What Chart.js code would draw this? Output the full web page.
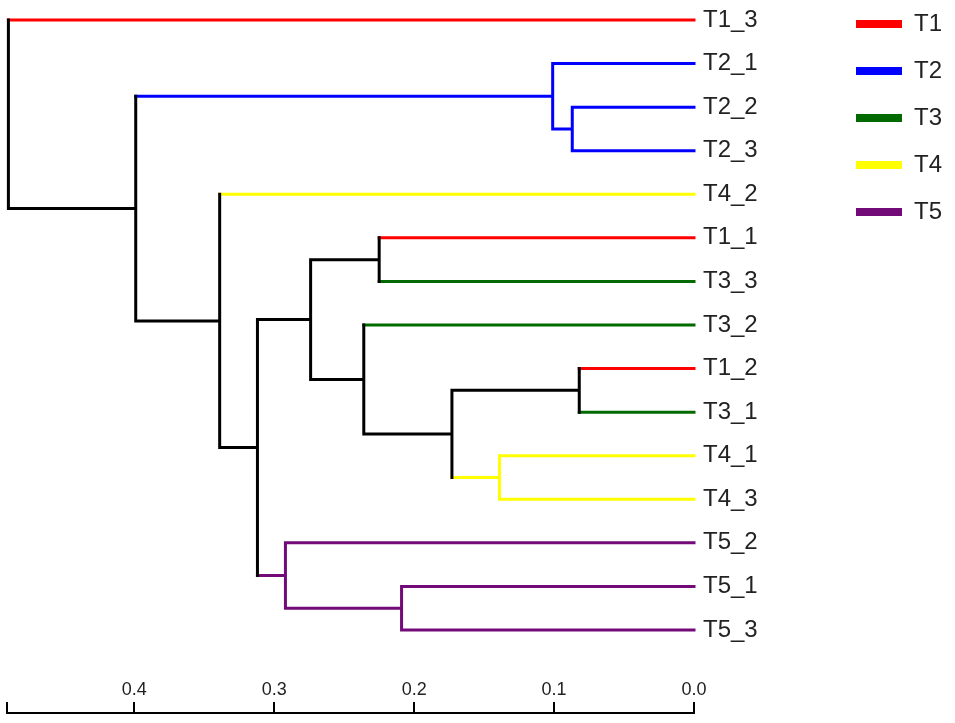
<!DOCTYPE html>
<html>
<head>
<meta charset="utf-8">
<title>Dendrogram</title>
<script src="https://cdn.jsdelivr.net/npm/chart.js@4.4.1/dist/chart.umd.min.js"></script>
<style>
  html, body { margin: 0; padding: 0; background: #fff; }
  #wrap { width: 955px; height: 723px; }
</style>
</head>
<body>
<div id="wrap"><canvas id="c" width="955" height="723"></canvas></div>
<script>
/* ---------- 데이터 ---------- */
// 잎 순서 (위 -> 아래)
const leafNames = ['T1_3','T2_1','T2_2','T2_3','T4_2','T1_1','T3_3','T3_2',
                   'T1_2','T3_1','T4_1','T4_3','T5_2','T5_1','T5_3'];

// 병합 목록: A, B 자식 id (0~14 = 잎, 15부터 = 내부 노드 순서대로) + 높이(거리)
const mergeA      = [2,     1,     8,     10,    17,    7,     5,     21,    13,    12,    22,    4,     16,    0];
const mergeB      = [3,     15,    9,     11,    18,    19,    6,     20,    14,    23,    24,    25,    26,    27];
const mergeHeight = [0.087, 0.101, 0.082, 0.139, 0.173, 0.236, 0.225, 0.274, 0.209, 0.292, 0.312, 0.339, 0.399, 0.490];

// 그룹 & 색
const groups      = ['T1','T2','T3','T4','T5'];
const groupColors = ['#ff0000','#0000ff','#006a00','#ffff00','#720a78'];

// 축 눈금
const xTicks = [0.0, 0.1, 0.2, 0.3, 0.4];
const xMax   = 0.491;

/* ---------- 트리 좌표 계산 ---------- */
const nodeX = [], nodeY = [], nodeGroup = [];
leafNames.forEach((n, i) => {
  nodeX.push(0);
  nodeY.push(i);
  nodeGroup.push(n.split('_')[0]);
});
mergeHeight.forEach((h, k) => {
  const a = mergeA[k], b = mergeB[k];
  nodeX.push(h);
  nodeY.push((nodeY[a] + nodeY[b]) / 2);
  nodeGroup.push(nodeGroup[a] === nodeGroup[b] ? nodeGroup[a] : null);
});

// 색별로 선분 모으기 (null 점으로 끊기)
const segs = { black: [] };
groups.forEach(g => segs[g] = []);
function addSeg(key, x1, y1, x2, y2){
  segs[key || 'black'].push({x:x1, y:y1}, {x:x2, y:y2}, {x:null, y:null});
}
mergeHeight.forEach((h, k) => {
  const id = leafNames.length + k;
  const a = mergeA[k], b = mergeB[k];
  addSeg(nodeGroup[id], h, nodeY[a], h, nodeY[b]);          // 세로
  addSeg(nodeGroup[a], h, nodeY[a], nodeX[a], nodeY[a]);    // 가로 (A)
  addSeg(nodeGroup[b], h, nodeY[b], nodeX[b], nodeY[b]);    // 가로 (B)
});

const colorOf = key => key === 'black' ? '#000' : groupColors[groups.indexOf(key)];
const datasets = Object.keys(segs).map(key => ({
  label: key,
  data: segs[key],
  showLine: true,
  spanGaps: false,
  borderColor: colorOf(key),
  backgroundColor: colorOf(key),
  borderWidth: 3,
  borderCapStyle: 'square',
  pointRadius: 0,
  clip: false
}));

/* ---------- 차트 ---------- */
// 차트 영역: 위 0, 아래 713 / 잎 간격 43.57px, 첫 잎 y=20
const LEAF_TOP = 20, LEAF_PITCH = 43.57, AREA_TOP = 0, AREA_BOTTOM = 713;

new Chart(document.getElementById('c'), {
  type: 'scatter',
  data: { datasets },
  options: {
    responsive: false,
    animation: false,
    events: [],
    // 위쪽 음수 패딩은 범례 위치만 끌어올림
    layout: { padding: { top: -11, left: 7, right: 3, bottom: 0 } },
    plugins: {
      tooltip: { enabled: false },
      legend: {
        position: 'right',
        align: 'start',
        onClick: null,
        labels: {
          boxWidth: 46,
          boxHeight: 8,
          padding: 23,
          color: '#222',
          font: { family: 'Arial, "Liberation Sans", sans-serif', size: 24 },
          generateLabels: () => groups.map((g, i) => ({
            text: g,
            fillStyle: groupColors[i],
            strokeStyle: groupColors[i],
            lineWidth: 0,
            hidden: false,
            fontColor: '#222'
          }))
        }
      }
    },
    scales: {
      x: {
        type: 'linear',
        position: 'bottom',
        reverse: true,
        min: 0,
        max: xMax,
        afterBuildTicks: s => { s.ticks = xTicks.concat([xMax]).map(v => ({ value: v })); },
        afterFit: s => { s.height = 10; s.paddingTop = 0; s.paddingBottom = 0; },
        ticks: {
          autoSkip: false,
          maxRotation: 0,
          mirror: true,
          padding: 12,
          color: '#222',
          font: { family: 'Arial, "Liberation Sans", sans-serif', size: 18 },
          callback: v => xTicks.includes(v) ? v.toFixed(1) : ''
        },
        grid: { drawOnChartArea: false, drawTicks: true, tickLength: -11, color: '#000', lineWidth: 2 },
        border: { display: true, color: '#000', width: 2 }
      },
      y: {
        type: 'linear',
        position: 'right',
        reverse: true,
        min: (AREA_TOP - LEAF_TOP) / LEAF_PITCH,
        max: (AREA_BOTTOM - LEAF_TOP) / LEAF_PITCH,
        afterBuildTicks: s => { s.ticks = leafNames.map((n, i) => ({ value: i })); },
        afterFit: s => { s.width = 139; s.paddingTop = 0; s.paddingBottom = 0; },
        ticks: {
          autoSkip: false,
          padding: 9,
          color: '#222',
          font: { family: 'Arial, "Liberation Sans", sans-serif', size: 24 },
          callback: v => leafNames[v]
        },
        grid: { display: false, drawTicks: false },
        border: { display: false }
      }
    }
  }
});
</script>
</body>
</html>
